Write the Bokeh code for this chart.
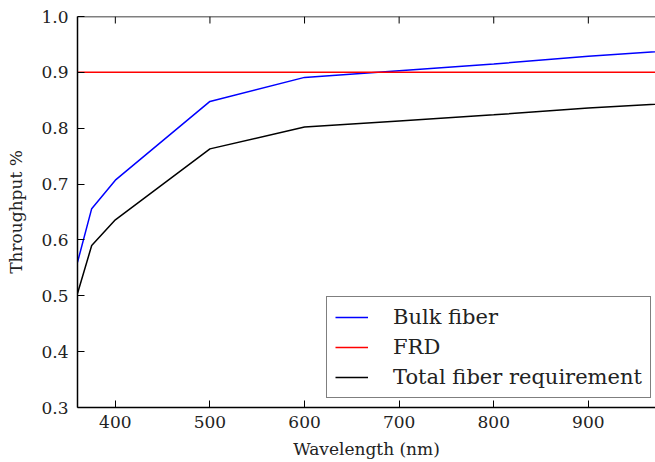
import math
from bokeh.plotting import figure
from bokeh.models import Range1d, FixedTicker, PrintfTickFormatter, Legend, LegendItem, Span
from bokeh.embed import file_html
from bokeh.resources import INLINE

# Data
wavelength = [360, 375, 400, 500, 600, 700, 800, 900, 1000]
bulk_fiber = [0.560, 0.656, 0.707, 0.848, 0.891, 0.903, 0.915, 0.929, 0.940]
total_fiber = [0.504, 0.590, 0.636, 0.763, 0.802, 0.813, 0.824, 0.836, 0.846]
frd_x = [360, 1000]
frd_y = [0.9, 0.9]
x_ticks = [400, 500, 600, 700, 800, 900]
y_ticks = [0.3, 0.4, 0.5, 0.6, 0.7, 0.8, 0.9, 1.0]

FONT = "DejaVu Serif"
TICK_SIZE = "17px"
TEXT_COLOR = "#222222"

p = figure(width=655, height=462, output_backend="svg", toolbar_location=None,
           x_range=Range1d(360, 971), y_range=Range1d(0.3, 1.0),
           min_border_left=77, min_border_top=16, min_border_right=0, min_border_bottom=55,
           x_axis_label="Wavelength (nm)", y_axis_label="Throughput %")
p.outline_line_color = None
p.xgrid.visible = False
p.ygrid.visible = False
p.background_fill_color = "white"
p.border_fill_color = "white"

def style_axis(ax, ticks):
    ax.ticker = FixedTicker(ticks=ticks)
    ax.minor_tick_line_color = None
    ax.major_tick_in = 7
    ax.major_tick_out = 0
    ax.major_tick_line_color = "black"
    ax.major_tick_line_width = 1
    ax.axis_line_color = "black"
    ax.axis_line_width = 1.5
    ax.major_label_text_font = FONT
    ax.major_label_text_font_size = TICK_SIZE
    ax.major_label_text_color = TEXT_COLOR
    ax.axis_label_text_font = FONT
    ax.axis_label_text_font_size = TICK_SIZE
    ax.axis_label_text_font_style = "normal"
    ax.axis_label_text_color = TEXT_COLOR

style_axis(p.xaxis[0], x_ticks)
style_axis(p.yaxis[0], y_ticks)
p.yaxis[0].formatter = PrintfTickFormatter(format="%.1f")
p.xaxis[0].major_label_standoff = 8
p.xaxis[0].axis_label_standoff = 8
p.yaxis[0].major_label_standoff = 9
p.yaxis[0].axis_label_standoff = 12

# top border of the frame and inward ticks on it
p.add_layout(Span(location=y_ticks[-1], dimension="width", line_color="black", line_width=1.5))
p.ray(x=x_ticks, y=[y_ticks[-1]] * len(x_ticks), length=7, length_units="screen",
      angle=-math.pi / 2, line_color="black", line_width=1)

r_bulk = p.line(wavelength, bulk_fiber, line_color="#0000ff", line_width=1.5)
r_frd = p.line(frd_x, frd_y, line_color="#ff0000", line_width=1.5)
r_total = p.line(wavelength, total_fiber, line_color="black", line_width=1.5)

legend = Legend(items=[
    LegendItem(label="Bulk fiber", renderers=[r_bulk]),
    LegendItem(label="FRD", renderers=[r_frd]),
    LegendItem(label="Total fiber requirement", renderers=[r_total]),
], location=(249, 9))
legend.label_text_font = FONT
legend.label_text_font_size = "21px"
legend.label_text_color = TEXT_COLOR
legend.border_line_color = "black"
legend.border_line_width = 1.5
legend.background_fill_color = "white"
legend.background_fill_alpha = 1
legend.padding = 8
legend.spacing = 6
legend.glyph_width = 33
legend.glyph_height = 24
legend.label_height = 24
legend.label_standoff = 25
legend.margin = 0
p.add_layout(legend, "center")

open("out.html", "w").write(file_html(p, INLINE))
